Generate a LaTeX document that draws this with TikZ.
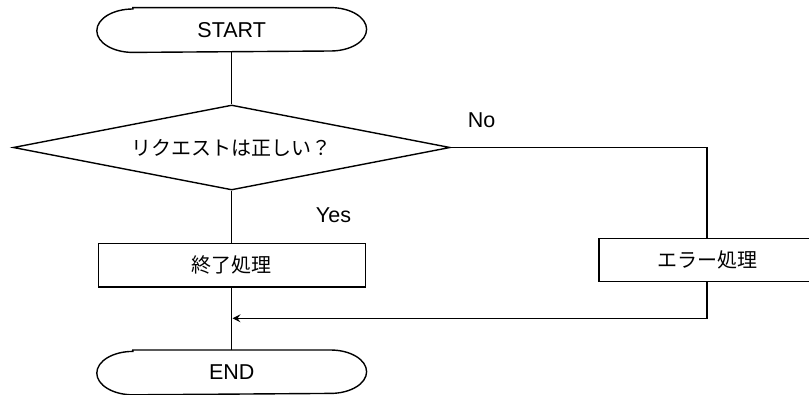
\documentclass[tikz,border=0pt]{standalone}
\usepackage{fontspec}
\setmainfont{Liberation Sans}
\newfontfamily\jp{Noto Sans CJK JP}
\usetikzlibrary{shapes.geometric,arrows.meta}
\tikzset{
  term/.style={minimum width=268.4pt,minimum height=43.4pt,inner sep=0pt},
  procbox/.style={draw,minimum height=43.4pt,inner sep=0pt},
  decide/.style={draw,diamond,aspect=5.14,minimum width=437pt,minimum height=85pt,inner sep=0pt}
}
% outline of a terminal: flat top and bottom, half-ellipse ends
\newcommand{\termline}[1]{\draw ([xshift=36pt]#1.north west) -- ([xshift=-36pt]#1.north east) arc[start angle=90,end angle=-90,x radius=36pt,y radius=21.7pt] -- ([xshift=36pt]#1.south west) arc[start angle=270,end angle=90,x radius=36pt,y radius=21.7pt] -- cycle;}
\begin{document}
\begin{tikzpicture}[x=1pt,y=-1pt,line width=1.4pt,every node/.style={font=\fontsize{21.5}{25}\selectfont}]
  \useasboundingbox (0,0) rectangle (809,394);
  \node[term] (start) at (231.7,30) {START}; \termline{start}
  \node[decide,font=\jp\fontsize{20}{24}\selectfont] (check) at (231.7,147.5) {リクエストは正しい？};
  \node[procbox,minimum width=267pt,font=\jp\fontsize{20}{24}\selectfont] (fin) at (231.7,265.3) {終了処理};
  \node[procbox,minimum width=216pt,font=\jp\fontsize{20}{24}\selectfont] (err) at (707,260) {エラー処理};
  \node[term] (stop) at (231.7,372.4) {END}; \termline{stop}
  \coordinate (merge) at (232.5,318.3);
  \node (no) at (481.7,120) {No};
  \node (yes) at (333.5,215.5) {Yes};
  \draw (start) -- (check); \draw (check) -- (fin);
  \draw (check.east) -| (err.north);
  \draw (fin) -- (stop);
  \draw[-{Stealth[length=8pt,width=8pt,inset=3pt]},line width=1.2pt] (err.south) |- (merge);
\end{tikzpicture}
\end{document}
